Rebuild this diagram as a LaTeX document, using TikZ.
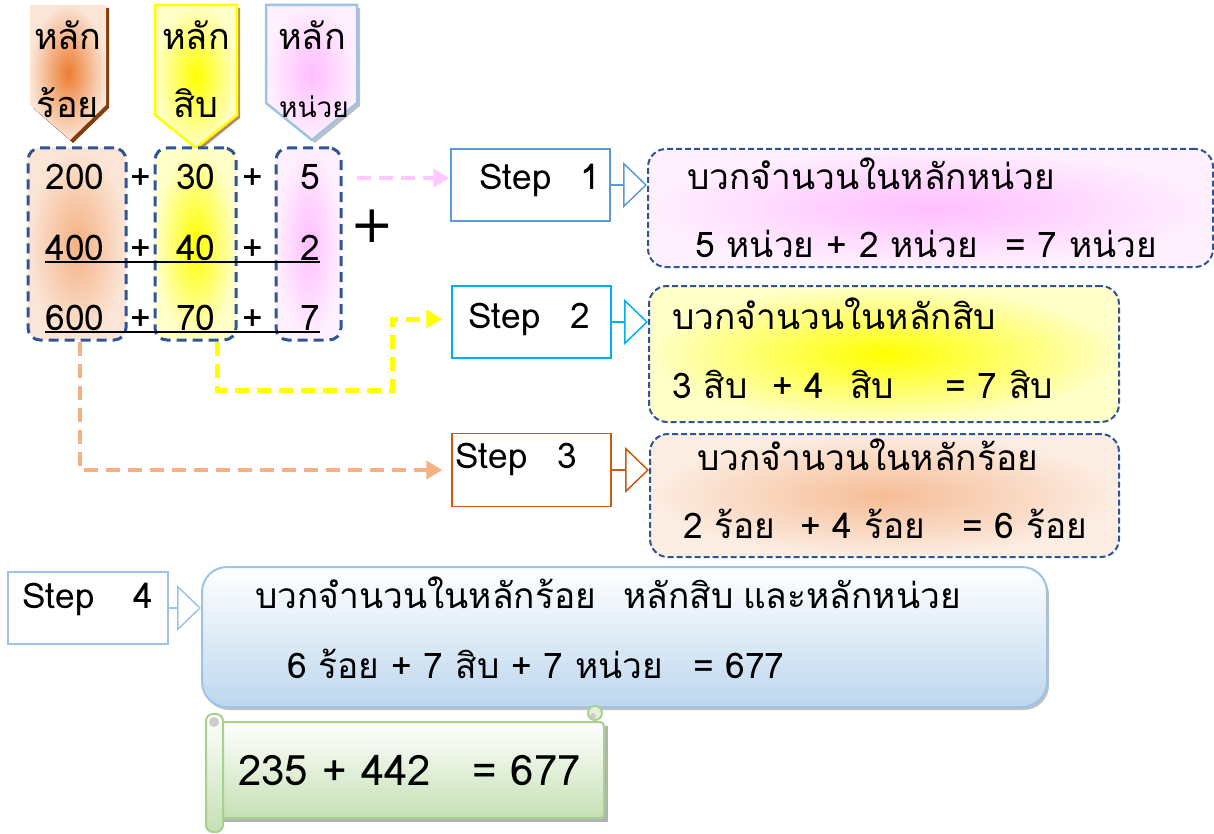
\documentclass[tikz,border=0pt]{standalone}
\usepackage{fontspec}
\setmainfont[Script=Thai]{Loma}
\newfontfamily\lat{DejaVu Sans}
\usetikzlibrary{arrows.meta,shadows,calc}
\definecolor{dkblue}{RGB}{47,85,151}
\definecolor{sone}{RGB}{91,155,213}
\definecolor{stwo}{RGB}{0,176,240}
\definecolor{sthree}{RGB}{197,90,17}
\definecolor{sfour}{RGB}{157,195,230}
\definecolor{peach}{RGB}{251,229,214}
\definecolor{orng}{RGB}{237,125,49}
\definecolor{orngl}{RGB}{244,177,131}
\definecolor{brownd}{RGB}{132,60,12}
\definecolor{ylw}{RGB}{255,255,0}
\definecolor{ylwl}{RGB}{255,255,200}
\definecolor{pinkc}{RGB}{255,190,255}
\definecolor{pinkl}{RGB}{255,240,255}
\definecolor{pinkarr}{RGB}{255,200,255}
\definecolor{bluebot}{RGB}{189,215,238}
\definecolor{grn}{RGB}{197,224,180}
\definecolor{grnb}{RGB}{169,209,142}
\tikzset{
 colbox/.style={draw=dkblue, dash pattern=on 10pt off 6pt, line width=3pt, rounded corners=12pt, inner sep=0pt},
 stepbox/.style={draw, line width=1.5pt, fill=white, inner sep=0pt},
 contbox/.style={draw=dkblue, dash pattern=on 6pt off 3pt, line width=2pt, rounded corners=18pt, inner sep=0pt},
 txt/.style={inner sep=0pt, font=\fontsize{35.3}{40}\selectfont, anchor=base west},
 ctxt/.style={txt, anchor=base},
 hollow/.style={line width=1.5pt, -{Triangle[open, length=24pt, width=46pt]}},
 dashconn/.style={line width=4pt, dash pattern=on 14pt off 8pt, -{Triangle[length=16pt,width=18pt]}},
}
\begin{document}
\begin{tikzpicture}[x=1pt,y=-1pt]
\useasboundingbox (0,0) rectangle (1214,834);
% header pentagons
\fill[brownd] (33,8) -- (109,8) -- (109,108) -- (73,143) -- (33,108) -- cycle;
\shade[shading=radial, inner color=orng, outer color=peach] (30,5) -- (106,5) -- (106,105) -- (70,140) -- (30,105) -- cycle;
\fill[brownd!60] (158,8) -- (240,8) -- (240,118) -- (199,151) -- (158,118) -- cycle;
\shade[shading=radial, inner color=ylw, outer color=ylwl, draw=ylw, line width=2.5pt] (155,5) -- (237,5) -- (237,115) -- (196,148) -- (155,115) -- cycle;
\fill[gray!50] (269,8) -- (360,8) -- (360,106) -- (315,143) -- (269,106) -- cycle;
\shade[shading=radial, inner color=pinkc, outer color=pinkl, draw=sfour, line width=2.5pt] (266,5) -- (357,5) -- (357,103) -- (312,140) -- (266,103) -- cycle;
\node[ctxt, font=\fontsize{36}{40}\selectfont] (h1a) at (68,50) {หลัก};
\node[ctxt, font=\fontsize{36}{40}\selectfont] (h1b) at (68,118) {ร้อย};
\node[ctxt, font=\fontsize{36}{40}\selectfont] (h2a) at (196,50) {หลัก};
\node[ctxt, font=\fontsize{36}{40}\selectfont] (h2b) at (196,118) {สิบ};
\node[ctxt, font=\fontsize{36}{40}\selectfont] (h3a) at (312,50) {หลัก};
\node[ctxt, font=\fontsize{28}{32}\selectfont] (h3b) at (314,118) {หน่วย};
% column boxes
\node[colbox, shading=radial, inner color=orngl, outer color=peach, minimum width=98pt, minimum height=192pt] (col1) at (77,244) {};
\node[colbox, shading=radial, inner color=ylw, outer color=ylwl, minimum width=81pt, minimum height=192pt] (col2) at (195.5,244) {};
\node[colbox, shading=radial, inner color=pinkc, outer color=pinkl, minimum width=65pt, minimum height=192pt] (col3) at (308.5,244) {};
% numbers
\node[ctxt] (n11) at (75,190) {200};
\node[ctxt] (n12) at (196,190) {30};
\node[ctxt] (n13) at (310,190) {5};
\node[ctxt] (n21) at (75,260) {400};
\node[ctxt] (n22) at (196,260) {40};
\node[ctxt] (n23) at (310,260) {2};
\node[ctxt] (n31) at (75,330) {600};
\node[ctxt] (n32) at (196,330) {70};
\node[ctxt] (n33) at (310,330) {7};
\foreach \y/\r in {190/1,260/2,330/3}{
 \node[ctxt] (pa\r) at (141,\y) {+};
 \node[ctxt] (pb\r) at (253,\y) {+};
}
\draw[line width=1.5pt] (45,262) -- (320,262);
\draw[line width=1.5pt] (45,332) -- (320,332);
\node[ctxt, font=\fontsize{52}{60}\selectfont\lat] (bigplus) at (372,242) {+};
% step boxes
\node[stepbox, draw=sone, minimum width=159pt, minimum height=72pt] (s1) at (530.5,185) {};
\node[stepbox, draw=stwo, minimum width=159pt, minimum height=72pt] (s2) at (531.5,322) {};
\node[stepbox, draw=sthree, minimum width=159pt, minimum height=73pt] (s3) at (531.5,470) {};
\node[stepbox, draw=sfour, minimum width=160pt, minimum height=72pt] (s4) at (88,608) {};
\node[txt] (s1t) at (479,190) {Step};
\node[txt] (s1n) at (580,190) {1};
\node[txt] (s2t) at (468,328) {Step};
\node[txt] (s2n) at (570,328) {2};
\node[txt] (s3t) at (455,468) {Step};
\node[txt] (s3n) at (557,468) {3};
\node[txt] (s4t) at (22,608) {Step};
\node[txt] (s4n) at (133,608) {4};
% content boxes
\node[contbox, shading=radial, inner color=pinkc, outer color=pinkl, minimum width=565pt, minimum height=118pt] (c1) at (930.5,208) {};
\node[contbox, shading=radial, inner color=ylw, outer color=ylwl, minimum width=470pt, minimum height=136pt] (c2) at (884,354) {};
\node[contbox, shading=radial, inner color=orngl!85, outer color=peach!70, minimum width=469pt, minimum height=123pt] (c3) at (884.5,495.5) {};
\node[draw=sfour, line width=2pt, rounded corners=25pt, top color=white, bottom color=bluebot, minimum width=845pt, minimum height=140pt, inner sep=0pt, drop shadow={shadow xshift=2pt, shadow yshift=-3pt, fill=gray!70, opacity=0.7}] (c4) at (624.5,637) {};
% content texts
\node[txt] (c1a) at (687,190) {บวกจำนวนในหลักหน่วย};
\node[txt] (c1b) at (695,258) {5 หน่วย + 2 หน่วย};
\node[txt] (c1c) at (1005,258) {= 7 หน่วย};
\node[txt] (c2a) at (672,329) {บวกจำนวนในหลักสิบ};
\node[txt] (c2b) at (672,398) {3 สิบ};
\node[txt] (c2c) at (772,398) {+ 4};
\node[txt] (c2d) at (850,398) {สิบ};
\node[txt] (c2e) at (945,398) {= 7 สิบ};
\node[txt] (c3a) at (697,470) {บวกจำนวนในหลักร้อย};
\node[txt] (c3b) at (683,538) {2 ร้อย};
\node[txt] (c3c) at (800,538) {+ 4 ร้อย};
\node[txt] (c3d) at (962,538) {= 6 ร้อย};
\node[txt] (c4a) at (255,608) {บวกจำนวนในหลักร้อย};
\node[txt] (c4b) at (623,608) {หลักสิบ};
\node[txt] (c4c) at (743,608) {และหลักหน่วย};
\node[txt] (c4d) at (287,678) {6 ร้อย + 7 สิบ + 7 หน่วย};
\node[txt] (c4e) at (693,678) {= 677};
% hollow arrows
\draw[hollow, sone] (s1) -- (c1.west |- s1);
\draw[hollow, stwo] (s2) -- (c2.west |- s2);
\draw[hollow, sthree] (s3) -- (c3.west |- s3);
\draw[hollow, sfour] (s4) -- (c4.west |- s4);
% dashed connectors
\draw[dashconn, pinkarr] ([xshift=14pt]col3.east |- 0,178) -- ([yshift=7pt, xshift=-1pt]s1.west);
\coordinate (ybend) at (392,390);
\draw[dashconn, ylw, line width=5pt, shorten >=9pt] ([xshift=22pt]col2.south) |- (ybend) |- ([yshift=3pt]s2.west);
\draw[dashconn, orngl, shorten >=9pt] ([xshift=3pt]col1.south) |- (s3.west);
% scroll
\fill[gray!60] (224,726) rectangle (608,822);
\shade[top color=white, bottom color=grn, draw=grnb, line width=2pt, rounded corners=4pt] (220,722) rectangle (604,818);
\shade[top color=white, bottom color=grn, draw=grnb, line width=2pt, rounded corners=7pt] (206,714) rectangle (223,832);
\fill[gray!40] (214,722) circle (5pt);
\draw[grnb, line width=2pt, fill=grn!50] (595,713) circle (7pt);
\fill[gray!40] (593,716) circle (3pt);
\node[txt, font=\fontsize{42}{48}\selectfont] (eq1) at (238,785) {235 + 442};
\node[txt, font=\fontsize{42}{48}\selectfont] (eq2) at (472,785) {= 677};
\end{tikzpicture}
\end{document}
